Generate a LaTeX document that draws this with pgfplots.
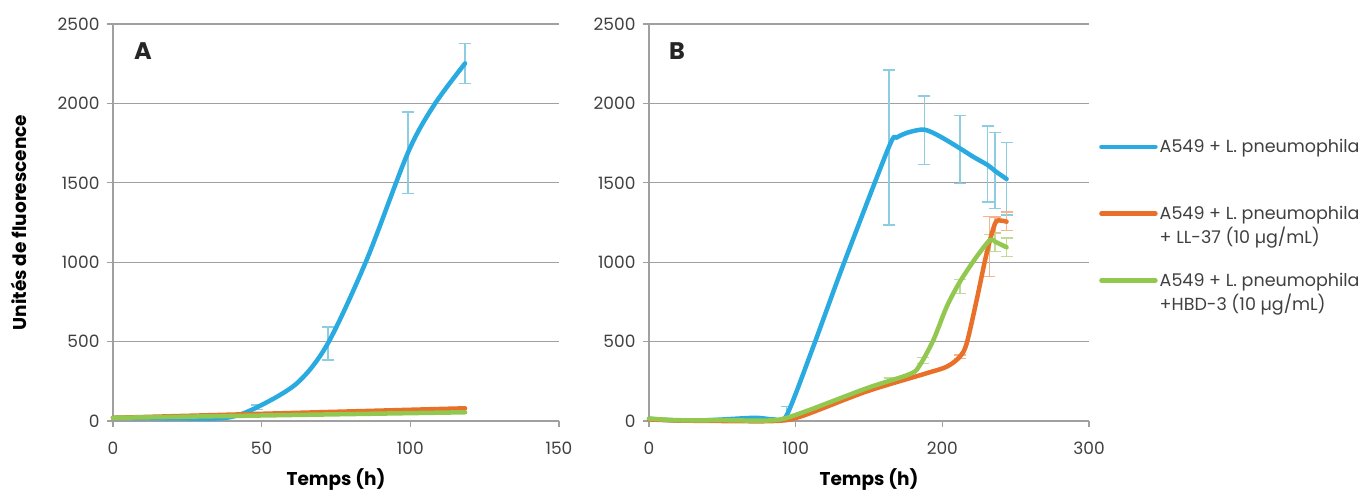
\documentclass[border=0pt]{standalone}
\usepackage{pgfplots}
\pgfplotsset{compat=1.18}
\usepackage{fontspec}
\setmainfont{Poppins}
\definecolor{cblue}{RGB}{41,171,226}
\definecolor{corange}{RGB}{232,112,40}
\definecolor{cgreen}{RGB}{146,200,80}
\definecolor{eblue}{RGB}{140,205,225}
\definecolor{eorange}{RGB}{245,180,140}
\definecolor{egreen}{RGB}{190,220,150}
\definecolor{gridgray}{RGB}{160,160,160}
\definecolor{txt}{RGB}{64,64,64}
\pgfplotsset{
  base/.style={scale only axis, height=397pt, ymin=0, ymax=2500, ytick={0,500,...,2500},
    axis x line=bottom, axis y line=left,
    axis line style={-, draw=gridgray, line width=1.3pt},
    tick style={draw=gridgray, line width=1.3pt}, major tick length=6pt, tick align=outside,
    ymajorgrids, grid style={draw=gridgray, line width=1.3pt},
    /pgf/number format/assume math mode=true, /pgf/number format/1000 sep={},
    ticklabel style={font=\fontsize{17}{20}\selectfont, text=txt},
    yticklabel style={xshift=-4pt},
    xticklabel style={yshift=-11pt},
    xlabel style={font=\bfseries\fontsize{18.5}{22}\selectfont, at={(axis description cs:0.5,-0.1486)}, anchor=center},
    clip=false},
  ln/.style={line width=4.5pt, line cap=round, line join=round, smooth, tension=0.5, mark=none},
  eb/.style={forget plot, draw=none, mark=none, error bars/.cd, y dir=both, y explicit,
    error bar style={draw=#1, line width=1.4pt},
    error mark options={draw=#1, rotate=90, mark size=6pt, line width=1.4pt}},
}
\begin{document}
\begin{tikzpicture}
\useasboundingbox (0,0) rectangle (1367pt,491pt);
% ---------- Panel A ----------
\begin{axis}[base, at={(113pt,70pt)}, anchor=south west, width=446pt,
  xmin=0, xmax=150, xtick={0,50,100,150},
  xlabel={Temps (h)},
  ylabel={Unités de fluorescence},
  ylabel style={font=\bfseries\fontsize{18.5}{22}\selectfont, at={(axis description cs:-0.211,0.5)}, anchor=center, rotate=0}]
\addplot[eb=eblue] table[x=x, y=y, y error plus=ep, y error minus=em] {
x y ep em
48.4 86 15 15
72.3 490 102 106
99.2 1690 256 259
118.4 2252 125 125
};
\addplot[ln, cblue] table {
0 20
20 17
38 20
48.4 86
62 240
72.3 490
85.3 1014
99.2 1690
108 1990
118.4 2252
};
\addplot[ln, corange] table {
0 20
118.4 80
};
\addplot[ln, cgreen] table {
0 20
118.4 55
};
\node[font=\bfseries\fontsize{24}{28}\selectfont, text=black!85] at (rel axis cs:0.067,0.932) {A};
\end{axis}
% ---------- Panel B ----------
\begin{axis}[base, at={(649pt,70pt)}, anchor=south west, width=440pt,
  xmin=0, xmax=300, xtick={0,100,200,300},
  xlabel={Temps (h)},
  legend style={at={(rel axis cs:1.0159,0.72)}, anchor=north west, draw=none, fill=none,
    font=\fontsize{17.5}{24}\selectfont, text=txt, row sep=24pt,
    nodes={align=left, inner sep=2pt}},
  legend cell align=left,
  legend image code/.code={\draw[#1, line width=4.5pt, line cap=round] (0pt,12pt) -- (54pt,12pt);}]
\addplot[eb=eblue] table[x=x, y=y, y error plus=ep, y error minus=em] {
x y ep em
93.8 35 55 20
163.6 1727 483 493
187.7 1837 210 221
212 1717 208 223
230.9 1612 246 233
235.9 1575 240 238
243.8 1524 231 227
};
\addplot[eb=eorange] table[x=x, y=y, y error plus=ep, y error minus=em] {
x y ep em
212 405 10 10
232 1100 187 190
236 1245 40 60
243.8 1255 60 57
};
\addplot[eb=egreen] table[x=x, y=y, y error plus=ep, y error minus=em] {
x y ep em
164 255 15 15
187 382 19 19
212 877 15 73
232.5 1140 36 74
236 1129 50 60
243.8 1094 58 59
};
\addplot[ln, cblue, tension=0.45] table {
0 15
15 5
40 5
72 20
85 10
93.8 35
112 468
132 972
163.6 1727
169 1785
177 1818
187.7 1835
198.4 1792
212 1717
221 1664
230.9 1612
235.9 1575
243.8 1524
};
\addlegendentry{A549 + L. pneumophila\\\mbox{}}
\addplot[ln, corange] table {
0 10
20 3
50 0
85 0
103 27
148 185
189 300
203 342
212 405
216.6 489
223.4 762
230.2 1056
236 1245
240 1262
243.8 1255
};
\addlegendentry{A549 + L. pneumophila\\+ LL-37 (10 µg/mL)}
\addplot[ln, cgreen] table {
0 15
20 5
50 5
85 5
103 48
148.4 206
178 296
184.7 353
193.9 510
203 720
212 877
223.4 1035
232.5 1140
236 1129
243.8 1094
};
\addlegendentry{A549 + L. pneumophila\\+HBD-3 (10 µg/mL)}
\node[font=\bfseries\fontsize{24}{28}\selectfont, text=black!85] at (rel axis cs:0.0636,0.932) {B};
\end{axis}
\end{tikzpicture}
\end{document}
